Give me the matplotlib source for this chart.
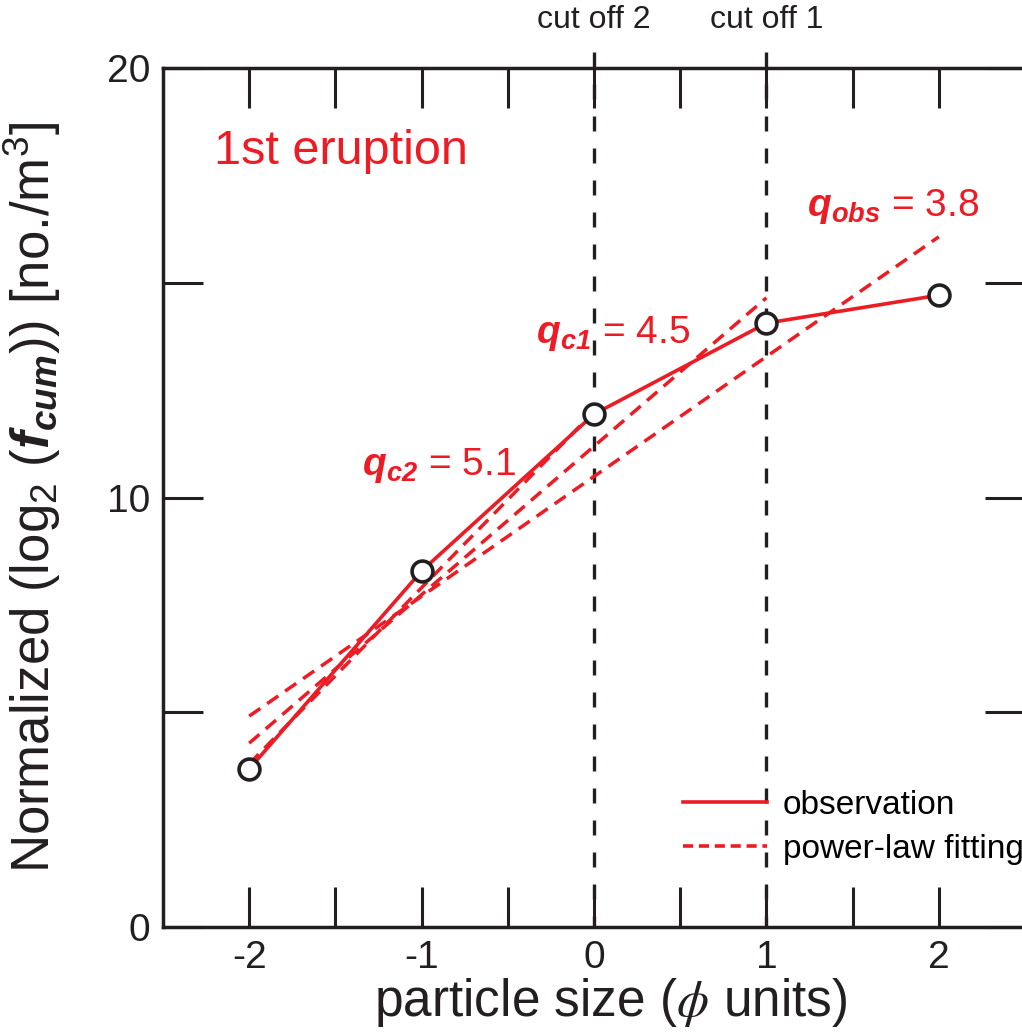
import numpy as np
import matplotlib
matplotlib.use('Agg')
import matplotlib.pyplot as plt
from matplotlib.lines import Line2D

plt.rcParams['font.family'] = ['Liberation Sans', 'DejaVu Sans']
plt.rcParams['mathtext.fontset'] = 'custom'
plt.rcParams['mathtext.rm'] = 'Liberation Sans'
plt.rcParams['mathtext.it'] = 'Liberation Sans:italic'
plt.rcParams['mathtext.bf'] = 'Liberation Sans:bold'
plt.rcParams['mathtext.bfit'] = 'Liberation Sans:italic:bold'

red = '#ed1c24'
black = '#231f20'

# observed cumulative distribution (log2 scale)
phi = [-2, -1, 0, 1, 2]
obs = [3.68, 8.29, 11.94, 14.06, 14.71]

# power-law fits, end points
fit_obs_x = [-2, 2]
fit_obs_y = [4.91, 16.07]
fit_c1_x = [-2, 1]
fit_c1_y = [4.28, 14.65]
fit_c2_x = [-2, 0]
fit_c2_y = [3.80, 12.00]

cutoff_x = [0, 1]
cutoff_lab = ['cut off 2', 'cut off 1']

q_labels = [r'$\mathbfit{q_{obs}}$ = 3.8', r'$\mathbfit{q_{c1}}$ = 4.5', r'$\mathbfit{q_{c2}}$ = 5.1']
q_pos = [(1.236, 16.55), (-0.337, 13.6), (-1.347, 10.52)]

fig = plt.figure(figsize=(10.22, 10.33), dpi=100)
ax = fig.add_axes([163/1022, 106/1033, 862/1022, 859/1033])

# cut off lines
for c, lab in zip(cutoff_x, cutoff_lab):
    ax.plot([c, c], [20.37, 0], color=black, lw=2.4, dashes=(4.5, 5.1), clip_on=False, zorder=2)
    ax.text(c, 20.93, lab, ha='center', va='baseline', fontsize=23, color=black, clip_on=False)

# fits
for fx, fy in [(fit_obs_x, fit_obs_y), (fit_c1_x, fit_c1_y), (fit_c2_x, fit_c2_y)]:
    ax.plot(fx, fy, color=red, lw=2.5, dashes=(3.9, 2.4), zorder=3)

ax.plot(phi, obs, color=red, lw=2.6, zorder=4)
ax.plot(phi, obs, 'o', ms=15, mfc='white', mec=black, mew=2.6, zorder=5)

for lab, (tx, ty) in zip(q_labels, q_pos):
    ax.text(tx, ty, lab, color=red, fontsize=28, ha='left', va='baseline')

ax.text(-2.205, 17.76, '1st eruption', color=red, fontsize=35, ha='left', va='baseline')

handles = [Line2D([], [], color=red, lw=2.6),
           Line2D([], [], color=red, lw=2.6, dashes=(2.8, 1.6))]
ax.legend(handles, ['observation', 'power-law fitting'], loc='upper left',
          bbox_to_anchor=(683/1022, 243/1033), bbox_transform=fig.transFigure,
          frameon=False, fontsize=24, handlelength=2.52, handletextpad=0.48,
          labelspacing=0.39, borderpad=0, borderaxespad=0)

ax.set_xlim(-2.5, 2.5)
ax.set_ylim(0, 20)
ax.set_xticks([-2, -1, 0, 1, 2])
ax.set_xticklabels(['-2', '-1', '0', '1', '2'])
ax.set_xticks([-1.5, -0.5, 0.5, 1.5], minor=True)
ax.set_yticks([0, 10, 20])
ax.set_yticks([5, 15], minor=True)
for which in ['major', 'minor']:
    ax.tick_params(which=which, direction='in', length=29, width=2.2, color=black,
                   top=True, right=True, labelsize=28, labelcolor=black, pad=9)
for s in ax.spines.values():
    s.set_linewidth(2.5)
    s.set_color(black)

ax.set_xlabel(r'particle size ($\phi$ units)', fontsize=37, color=black, math_fontfamily='stix')
ax.xaxis.set_label_coords(0.52, -0.057)
ax.set_ylabel(r'Normalized (log$_2$ ($\mathbfit{f_{cum}}$)) [no./m$^3$]', fontsize=38, color=black)
ax.yaxis.set_label_coords(-0.116, 0.5)

plt.savefig('out.png', dpi=100)
